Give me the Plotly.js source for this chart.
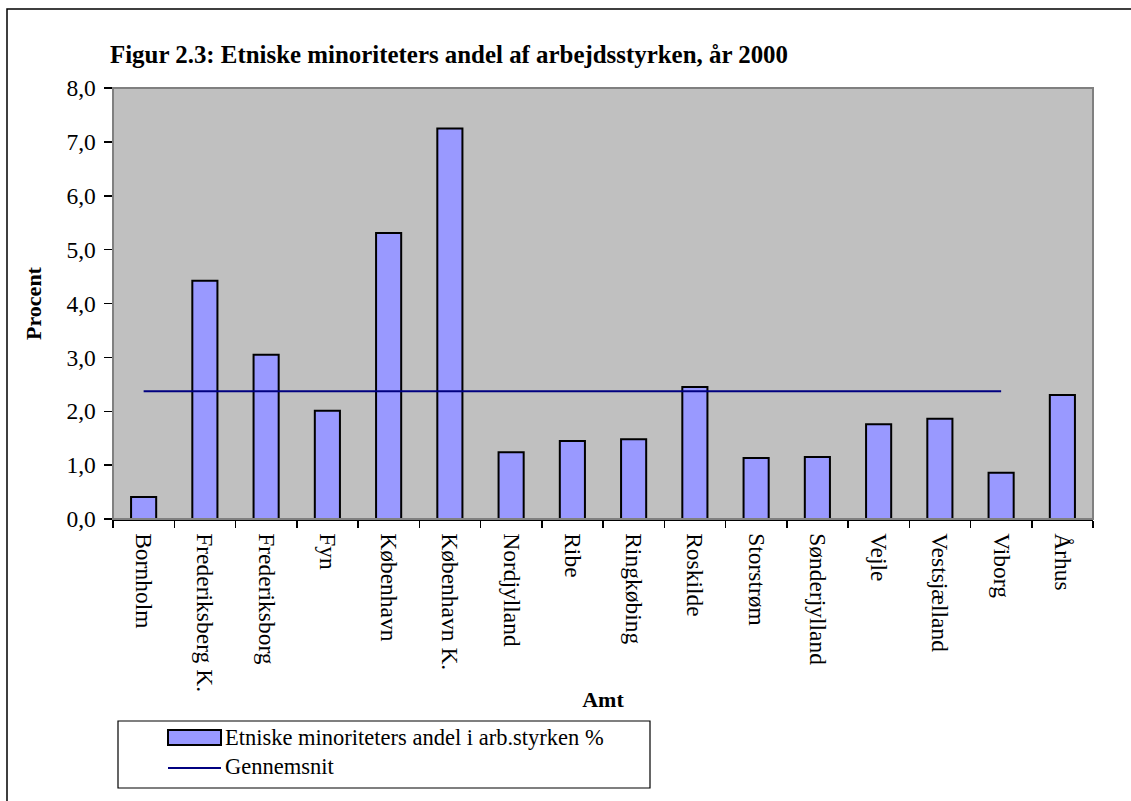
<!DOCTYPE html>
<html>
<head>
<meta charset="utf-8">
<script src="https://cdn.plot.ly/plotly-3.0.1.min.js"></script>
<style>html,body{margin:0;padding:0;background:#fff;}#chart{width:1131px;height:801px;}</style>
</head>
<body>
<div id="chart"></div>
<script>
const categories = ["Bornholm","Frederiksberg K.","Frederiksborg","Fyn","København","København K.","Nordjylland","Ribe","Ringkøbing","Roskilde","Storstrøm","Sønderjylland","Vejle","Vestsjælland","Viborg","Århus"];
const shareValues = [0.41, 4.42, 3.05, 2.01, 5.31, 7.25, 1.24, 1.45, 1.48, 2.45, 1.13, 1.15, 1.76, 1.86, 0.86, 2.30];
const averageCategories = ["Bornholm","Frederiksberg K.","Frederiksborg","Fyn","København","København K.","Nordjylland","Ribe","Ringkøbing","Roskilde","Storstrøm","Sønderjylland","Vejle","Vestsjælland","Viborg"];
const averageValues = [2.37, 2.37, 2.37, 2.37, 2.37, 2.37, 2.37, 2.37, 2.37, 2.37, 2.37, 2.37, 2.37, 2.37, 2.37];
const seriesNames = ["Etniske minoriteters andel i arb.styrken %", "Gennemsnit"];
const titleText = "Figur 2.3: Etniske minoriteters andel af arbejdsstyrken, år 2000";
const yTitle = "Procent";
const xTitle = "Amt";

const W = 1131, H = 801;
const M = {l: 113, r: 38, t: 88, b: 282};
const PW = W - M.l - M.r, PH = H - M.t - M.b;
const px = x => (x - M.l) / PW;
const py = y => (H - M.b - y) / PH;
const FONT = "Liberation Serif, Times New Roman, serif";
const TICK = 23.5;

const traces = [
  {type: "bar", x: categories, y: shareValues, name: seriesNames[0],
   marker: {color: "#9999ff", line: {color: "#000000", width: 2}}, showlegend: false},
  {type: "scatter", mode: "lines", x: averageCategories, y: averageValues, name: seriesNames[1],
   line: {color: "#000080", width: 2}, showlegend: false}
];

const layout = {
  width: W, height: H,
  margin: M,
  paper_bgcolor: "#ffffff",
  plot_bgcolor: "#c0c0c0",
  separators: ", ",
  font: {family: FONT, size: 22, color: "#000000"},
  bargap: 0.59,
  title: {text: "<b>" + titleText + "</b>", font: {family: FONT, size: 24.9, color: "#000"},
          xref: "container", x: 110 / W, xanchor: "left", yref: "container", y: 1 - 54 / H, yanchor: "middle"},
  xaxis: {type: "category", tickangle: 90, tickson: "boundaries", ticks: "outside", ticklen: 7, tickwidth: 1.5,
          tickcolor: "#000", showline: true, linecolor: "#000", linewidth: 1.5, showgrid: false,
          tickfont: {family: FONT, size: TICK}, ticklabelstandoff: 8, automargin: false, fixedrange: true,
          title: {text: "<b>" + xTitle + "</b>", font: {family: FONT, size: 22}, standoff: 0}},
  yaxis: {range: [0, 8], dtick: 1, tickformat: ".1f", ticks: "outside", ticklen: 8, tickwidth: 1.5,
          tickcolor: "#000", showline: true, linecolor: "#000", linewidth: 1.5, showgrid: false, zeroline: false,
          tickfont: {family: FONT, size: TICK}, ticklabelstandoff: 3, automargin: false, fixedrange: true,
          title: {text: "<b>" + yTitle + "</b>", font: {family: FONT, size: 22}, standoff: 18}},
  shapes: [
    {type: "rect", xref: "paper", yref: "paper", x0: 0, x1: 1, y0: 0, y1: 1, line: {color: "#808080", width: 2}, layer: "above"},
    {type: "rect", xref: "paper", yref: "paper", x0: px(7), x1: px(1140), y0: py(810), y1: py(9), line: {color: "#000", width: 1.5}},
    {type: "rect", xref: "paper", yref: "paper", x0: px(118), x1: px(650), y0: py(788), y1: py(721), line: {color: "#000", width: 1.2}},
    {type: "rect", xref: "paper", yref: "paper", x0: px(168), x1: px(221), y0: py(745), y1: py(730), fillcolor: "#9999ff", line: {color: "#000", width: 2}},
    {type: "line", xref: "paper", yref: "paper", x0: px(168), x1: px(221), y0: py(768), y1: py(768), line: {color: "#000080", width: 2}}
  ],
  annotations: [
    {xref: "paper", yref: "paper", x: px(223), y: py(737), xanchor: "left", yanchor: "middle", showarrow: false,
     text: seriesNames[0], font: {family: FONT, size: 22.5}},
    {xref: "paper", yref: "paper", x: px(223), y: py(767), xanchor: "left", yanchor: "middle", showarrow: false,
     text: seriesNames[1], font: {family: FONT, size: 22.5}}
  ]
};

Plotly.newPlot("chart", traces, layout, {staticPlot: true, displayModeBar: false});
</script>
</body>
</html>
